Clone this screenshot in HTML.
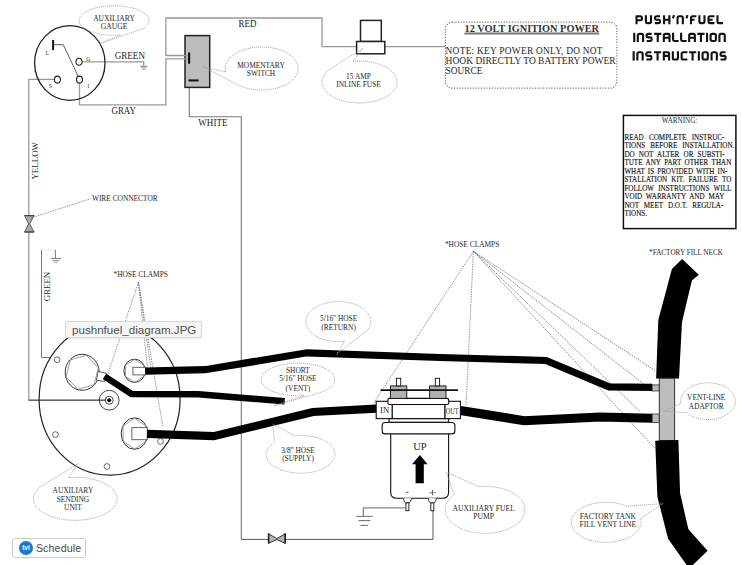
<!DOCTYPE html>
<html><head><meta charset="utf-8"><style>
html,body{margin:0;padding:0;background:#fff;}
body{width:741px;height:565px;position:relative;overflow:hidden;font-family:"Liberation Serif",serif;}
svg{position:absolute;left:0;top:0;}
svg text{font-family:"Liberation Serif",serif;fill:#262626;}
.tip{position:absolute;left:64.5px;top:320.9px;width:137px;height:17.6px;box-sizing:border-box;background:#f5f5f5;border:1px solid #d8d8d8;border-radius:2px;box-shadow:0 0.5px 1.5px rgba(0,0,0,0.08);font-family:"Liberation Sans",sans-serif;font-size:11.6px;line-height:15.6px;color:#505050;padding-left:6.5px;white-space:nowrap;}
.sched{position:absolute;left:12.4px;top:538.2px;width:74px;height:20px;box-sizing:border-box;background:#fff;border:1px solid #cdcdcd;border-radius:3px;font-family:"Liberation Sans",sans-serif;font-size:10.6px;color:#4a4a4a;}
.sched .ic{position:absolute;left:5.6px;top:1.7px;width:14px;height:14px;border-radius:50%;background:#1b78d0;color:#fff;font-size:6.5px;font-weight:bold;line-height:14px;text-align:center;}
.sched .lb{position:absolute;left:22.5px;top:2.2px;line-height:15px;letter-spacing:0.15px;}
</style></head><body>
<svg width="741" height="565" viewBox="0 0 741 565">
<polyline points="188,55.5 165.9,55.5 165.9,18 322,18 322,46.6 356.6,46.6" fill="none" stroke="#9a9a9a" stroke-width="1.3"/>
<polyline points="384.8,46.6 445.5,46.6" fill="none" stroke="#9a9a9a" stroke-width="1.3"/>
<polyline points="79.5,83 79.5,104.8 165.9,104.8 165.9,58.9 188,58.9" fill="none" stroke="#9a9a9a" stroke-width="1.3"/>
<polyline points="82,61.8 143.7,61.8 143.7,66" fill="none" stroke="#9a9a9a" stroke-width="1.3"/>
<g stroke="#888"><line x1="140" y1="66.3" x2="147.6" y2="66.3" stroke-width="1"/><line x1="141" y1="67.8" x2="146.5" y2="67.8" stroke-width="0.8"/><line x1="142.2" y1="69.3" x2="145.4" y2="69.3" stroke-width="0.8"/></g>
<polyline points="54.4,79.3 28.8,79.3 28.8,400.2 106,400.2" fill="none" stroke="#9a9a9a" stroke-width="1.3"/>
<line x1="28.8" y1="400.2" x2="106" y2="400.2" stroke="#444" stroke-width="1"/>
<polyline points="189.3,82 189.3,116.8 241.3,116.8 241.3,539.4" fill="none" stroke="#7a7a7a" stroke-width="1.1"/>
<polyline points="241,539.4 433,539.4 433,508" fill="none" stroke="#555" stroke-width="1"/>
<line x1="41.6" y1="250.2" x2="55.4" y2="250.2" stroke="#e6e6e6" stroke-width="0.8"/>
<polyline points="41.5,250 41.5,357.5 50.2,357.5" fill="none" stroke="#777" stroke-width="1"/>
<line x1="55.4" y1="250" x2="55.4" y2="258.5" stroke="#777" stroke-width="1"/>
<g stroke="#777"><line x1="51.1" y1="258.5" x2="61.1" y2="258.5" stroke-width="1"/><line x1="52.2" y1="260.5" x2="59.5" y2="260.5" stroke-width="0.8"/><line x1="53.8" y1="262.2" x2="57.8" y2="262.2" stroke-width="0.7"/></g>
<path d="M24.6,215.6 L34,215.6 L29.7,223.8 L34,232 L24.6,232 L28.6,223.8 Z" fill="#a9a9a9" stroke="#555" stroke-width="0.9"/>
<line x1="24.4" y1="215.6" x2="34.2" y2="215.6" stroke="#444" stroke-width="1.2"/><line x1="24.4" y1="232" x2="34.2" y2="232" stroke="#444" stroke-width="1.2"/>
<path d="M268.6,533.8 L276.9,538.6 L285.2,533.8 L285.2,543.2 L276.9,539.6 L268.6,543.2 Z" fill="#b5b5b5" stroke="#333" stroke-width="1"/>
<line x1="268.6" y1="533.4" x2="268.6" y2="543.6" stroke="#222" stroke-width="1.6"/><line x1="285.2" y1="533.4" x2="285.2" y2="543.6" stroke="#222" stroke-width="1.6"/>
<ellipse cx="69.8" cy="63" rx="35.2" ry="37.3" fill="none" stroke="#222" stroke-width="1.3"/>
<line x1="53.1" y1="40" x2="53.1" y2="50.1" stroke="#111" stroke-width="2"/>
<polyline points="53.1,44.7 63.3,44.7 78.4,76.8" fill="none" stroke="#333" stroke-width="0.8"/>
<ellipse cx="79" cy="61.8" rx="3" ry="3.5" fill="white" stroke="#222" stroke-width="1.1"/>
<ellipse cx="57.4" cy="79.6" rx="3" ry="3.5" fill="white" stroke="#222" stroke-width="1.1"/>
<ellipse cx="79.5" cy="79.6" rx="3" ry="3.5" fill="white" stroke="#222" stroke-width="1.1"/>
<text transform="translate(47.20,55.00) scale(1,1.070)" font-size="5.50" text-anchor="middle" >L</text>
<text transform="translate(88.20,60.50) scale(1,1.070)" font-size="5.50" text-anchor="middle" >G</text>
<text transform="translate(50.20,88.00) scale(1,1.070)" font-size="5.50" text-anchor="middle" >S</text>
<text transform="translate(88.40,88.00) scale(1,1.070)" font-size="5.50" text-anchor="middle" >I</text>
<rect x="185" y="35.6" width="24.7" height="51.8" fill="#bdbdbd" stroke="#222" stroke-width="1.5"/>
<line x1="184" y1="55.5" x2="189" y2="55.5" stroke="#9a9a9a" stroke-width="1.3"/><line x1="184" y1="58.9" x2="189" y2="58.9" stroke="#9a9a9a" stroke-width="1.3"/>
<line x1="189.1" y1="53.3" x2="189.1" y2="63.1" stroke="#111" stroke-width="2.1" stroke-linecap="round"/>
<line x1="188.5" y1="80.4" x2="198.6" y2="80.4" stroke="#111" stroke-width="2"/>
<rect x="360.5" y="20.4" width="20.8" height="21.1" fill="white" stroke="#222" stroke-width="1.5"/>
<rect x="356.6" y="41.5" width="28.2" height="12.3" fill="white" stroke="#222" stroke-width="1.5"/>
<ellipse cx="109.6" cy="399.2" rx="70.5" ry="76" fill="none" stroke="#222" stroke-width="1.2"/>
<ellipse cx="82.2" cy="372.3" rx="17" ry="18" fill="white" stroke="#333" stroke-width="1"/>
<polygon points="98.3,367.7 94.0,384.8 77.9,389.3 66.1,376.9 70.4,359.8 86.5,355.3" fill="none" stroke="#888" stroke-width="0.8"/>
<ellipse cx="134.6" cy="370.8" rx="10.7" ry="11.6" fill="white" stroke="#333" stroke-width="1"/>
<polygon points="143.7,376.5 134.6,382.2 125.5,376.5 125.5,365.1 134.6,359.4 143.7,365.1" fill="none" stroke="#888" stroke-width="0.8"/>
<ellipse cx="134.5" cy="433.6" rx="13.3" ry="15.7" fill="white" stroke="#333" stroke-width="1"/>
<polygon points="145.8,441.3 134.5,449.0 123.2,441.3 123.2,425.9 134.5,418.2 145.8,425.9" fill="none" stroke="#888" stroke-width="0.8"/>
<polygon points="98.2,371.4 106.5,373.4 104.6,381.6 96.4,380" fill="white" stroke="#333" stroke-width="0.8"/>
<rect x="132.9" y="367.3" width="12.6" height="7.6" fill="white" stroke="#555" stroke-width="0.9"/>
<rect x="131.9" y="427.6" width="15.3" height="12.1" fill="white" stroke="#555" stroke-width="0.9"/>
<circle cx="109.2" cy="400.2" r="9.9" fill="none" stroke="#333" stroke-width="0.9"/>
<circle cx="109.2" cy="400.2" r="4" fill="none" stroke="#333" stroke-width="0.9"/>
<circle cx="109.2" cy="400.2" r="2" fill="#000"/>
<circle cx="57.1" cy="359.8" r="2.9" fill="none" stroke="#444" stroke-width="0.8"/>
<circle cx="55.4" cy="434.6" r="2.9" fill="none" stroke="#444" stroke-width="0.8"/>
<circle cx="107" cy="466.5" r="2.9" fill="none" stroke="#444" stroke-width="0.8"/>
<circle cx="160.5" cy="441.4" r="2.9" fill="none" stroke="#444" stroke-width="0.8"/>
<line x1="138.4" y1="282.1" x2="107.5" y2="375.1" stroke="#666" stroke-width="0.7" stroke-dasharray="1.5 1"/>
<line x1="138.4" y1="282.1" x2="147.4" y2="367.5" stroke="#666" stroke-width="0.7" stroke-dasharray="1.5 1"/>
<line x1="138.4" y1="282.1" x2="150.8" y2="367.5" stroke="#666" stroke-width="0.7" stroke-dasharray="1.5 1"/>
<line x1="138.4" y1="282.1" x2="163" y2="427.5" stroke="#666" stroke-width="0.7" stroke-dasharray="1.5 1"/>
<line x1="473.4" y1="251.3" x2="373" y2="404" stroke="#666" stroke-width="0.7" stroke-dasharray="1.5 1"/>
<line x1="473.4" y1="251.3" x2="466" y2="405.6" stroke="#666" stroke-width="0.7" stroke-dasharray="1.5 1"/>
<line x1="473.4" y1="251.3" x2="655.1" y2="370.6" stroke="#555" stroke-width="0.7" stroke-dasharray="1.4 1"/>
<line x1="473.4" y1="251.3" x2="643" y2="383.5" stroke="#555" stroke-width="0.7" stroke-dasharray="1.4 1"/>
<line x1="473.4" y1="251.3" x2="640" y2="411.5" stroke="#555" stroke-width="0.7" stroke-dasharray="1.4 1"/>
<line x1="473.4" y1="251.3" x2="655.1" y2="448.5" stroke="#555" stroke-width="0.7" stroke-dasharray="1.4 1"/>
<line x1="31" y1="218" x2="91" y2="198.5" stroke="#666" stroke-width="0.7" stroke-dasharray="1.5 1"/>
<polyline points="145.2,371.2 205,369.7 307,352.8 440,357.5 546,360.5 609,386.8 652.2,387.3" stroke-width="7.2" fill="none" stroke="#000" stroke-linejoin="miter" stroke-miterlimit="10"/>
<polyline points="104.5,376.4 131.5,394 198.3,394.2 284.7,401.3" stroke-width="6.4" fill="none" stroke="#000" stroke-linejoin="miter" stroke-miterlimit="10"/>
<polyline points="147.2,433.8 213.7,436.2 312.8,412 376.5,408.6" stroke-width="8.2" fill="none" stroke="#000" stroke-linejoin="miter" stroke-miterlimit="10"/>
<polyline points="460.4,410.5 524.2,420.7 600,417 652.2,418.3" stroke-width="9" fill="none" stroke="#000" stroke-linejoin="miter" stroke-miterlimit="10"/>
<rect x="652.2" y="384.9" width="7.1" height="6.1" fill="#bbb" stroke="#333" stroke-width="0.8"/>
<rect x="652.2" y="414" width="7.1" height="8.5" fill="#bbb" stroke="#333" stroke-width="0.8"/>
<polygon points="682.1,259 698.8,274.8 691.9,280.5 682,322 679,378.5 656.1,378.5 658.3,320 671.9,269.1" fill="#000"/>
<rect x="659.3" y="378.3" width="15.3" height="62.2" fill="#bdbdbd" stroke="#333" stroke-width="1"/>
<polygon points="655.2,440.8 678.4,440 680.1,493.3 688.4,529.2 707.6,550.7 690.8,567 688,567 668.1,538.7 657.4,496.9" fill="#000"/>
<path d="M390.7,430 L390.7,492.2 Q390.7,498.2 396.7,498.2 L442.6,498.2 Q448.6,498.2 448.6,492.2 L448.6,430 Z" fill="white" stroke="#111" stroke-width="1.1"/>
<rect x="382.2" y="422.5" width="72.7" height="11.4" rx="3" fill="white" stroke="#111" stroke-width="1.1"/>
<rect x="389.1" y="418.6" width="59.6" height="3.6" fill="white" stroke="#111" stroke-width="1.1"/>
<rect x="392.1" y="404.5" width="52.9" height="14.1" fill="white" stroke="#111" stroke-width="1.1"/>
<rect x="376.2" y="401.3" width="15.9" height="17.3" fill="white" stroke="#111" stroke-width="1.1"/>
<rect x="445" y="401.3" width="15.4" height="17.3" fill="white" stroke="#111" stroke-width="1.1"/>
<rect x="387.9" y="398.4" width="60.8" height="6.1" rx="1.5" fill="white" stroke="#111" stroke-width="1.1"/>
<rect x="390.4" y="385.9" width="16.4" height="12.5" fill="#b0b0b0" stroke="#111" stroke-width="0.9"/>
<rect x="396.4" y="378.3" width="4.3" height="7.6" fill="white" stroke="#111" stroke-width="0.9"/>
<rect x="429.6" y="385.9" width="16.4" height="12.5" fill="#b0b0b0" stroke="#111" stroke-width="0.9"/>
<rect x="435.3" y="378.3" width="4.3" height="7.6" fill="white" stroke="#111" stroke-width="0.9"/>
<line x1="380.6" y1="390.1" x2="458" y2="390.1" stroke="#111" stroke-width="1.9"/>
<text transform="translate(384.60,412.80) scale(1,1.000)" font-size="8.60" text-anchor="middle" >IN</text>
<text transform="translate(452.10,413.60) scale(1,1.200)" font-size="6.30" text-anchor="middle" >OUT</text>
<text transform="translate(419.90,450.20) scale(1,1.070)" font-size="10.50" text-anchor="middle" >UP</text>
<polygon points="419.9,455 427.6,464.3 423.8,464.3 423.8,483.3 415.6,483.3 415.6,464.3 411.9,464.3" fill="#000"/>
<line x1="405.8" y1="492.3" x2="408.6" y2="492.3" stroke="#444" stroke-width="0.9"/>
<line x1="429.4" y1="492.8" x2="435.6" y2="492.8" stroke="#666" stroke-width="0.9"/><line x1="432.5" y1="489.8" x2="432.5" y2="495.6" stroke="#666" stroke-width="0.9"/>
<path d="M403.3,498.2 Q403.8,502.4 405.8,502.9 L409.0,502.9 Q411.0,502.4 411.5,498.2" fill="white" stroke="#222" stroke-width="0.9"/>
<rect x="405.9" y="502.9" width="3" height="7.8" fill="white" stroke="#111" stroke-width="0.9"/>
<path d="M428.2,498.2 Q428.7,502.4 430.7,502.9 L433.9,502.9 Q435.9,502.4 436.4,498.2" fill="white" stroke="#222" stroke-width="0.9"/>
<rect x="430.8" y="502.9" width="3" height="7.8" fill="white" stroke="#111" stroke-width="0.9"/>
<polyline points="405.5,507.9 363.3,507.9 363.3,516" fill="none" stroke="#666" stroke-width="1"/>
<g stroke="#777" stroke-width="1.1"><line x1="356.2" y1="516.4" x2="372.8" y2="516.4"/><line x1="358.6" y1="520.6" x2="370.4" y2="520.6"/><line x1="360.4" y1="525.4" x2="368" y2="525.4"/></g>
<text transform="translate(114.00,20.60) scale(1,1.070)" font-size="7.60" text-anchor="middle" >AUXILIARY</text>
<text transform="translate(114.00,28.50) scale(1,1.070)" font-size="7.60" text-anchor="middle" >GAUGE</text>
<text transform="translate(129.80,58.50) scale(1,1.070)" font-size="9.10" text-anchor="middle" >GREEN</text>
<text transform="translate(123.70,113.90) scale(1,1.070)" font-size="8.95" text-anchor="middle" >GRAY</text>
<text transform="translate(247.60,26.70) scale(1,1.070)" font-size="9.00" text-anchor="middle" >RED</text>
<text transform="translate(212.90,125.60) scale(1,1.070)" font-size="9.10" text-anchor="middle" >WHITE</text>
<text transform="translate(261.00,67.80) scale(1,1.070)" font-size="7.40" text-anchor="middle" >MOMENTARY</text>
<text transform="translate(261.00,75.90) scale(1,1.070)" font-size="7.40" text-anchor="middle" >SWITCH</text>
<text transform="translate(358.50,78.50) scale(1,1.070)" font-size="7.40" text-anchor="middle" >15 AMP</text>
<text transform="translate(358.50,86.60) scale(1,1.070)" font-size="7.40" text-anchor="middle" >INLINE FUSE</text>
<text transform="translate(124.80,200.60) scale(1,1.070)" font-size="7.40" text-anchor="middle" >WIRE CONNECTOR</text>
<text transform="translate(140.70,276.70) scale(1,1.070)" font-size="7.40" text-anchor="middle" >*HOSE CLAMPS</text>
<text transform="translate(472.10,246.60) scale(1,1.070)" font-size="7.40" text-anchor="middle" >*HOSE CLAMPS</text>
<text transform="translate(686.00,255.30) scale(1,1.070)" font-size="7.20" text-anchor="middle" >*FACTORY FILL NECK</text>
<text transform="translate(338.60,321.00) scale(1,1.070)" font-size="7.40" text-anchor="middle" >5/16" HOSE</text>
<text transform="translate(338.60,329.60) scale(1,1.070)" font-size="7.40" text-anchor="middle" >(RETURN)</text>
<text transform="translate(297.90,372.80) scale(1,1.070)" font-size="7.40" text-anchor="middle" >SHORT</text>
<text transform="translate(297.90,381.30) scale(1,1.070)" font-size="7.40" text-anchor="middle" >5/16" HOSE</text>
<text transform="translate(297.90,390.50) scale(1,1.070)" font-size="7.40" text-anchor="middle" >(VENT)</text>
<text transform="translate(298.00,452.90) scale(1,1.070)" font-size="7.40" text-anchor="middle" >3/8" HOSE</text>
<text transform="translate(298.00,461.00) scale(1,1.070)" font-size="7.40" text-anchor="middle" >(SUPPLY)</text>
<text transform="translate(72.90,493.40) scale(1,1.070)" font-size="7.40" text-anchor="middle" >AUXILIARY</text>
<text transform="translate(72.90,501.50) scale(1,1.070)" font-size="7.40" text-anchor="middle" >SENDING</text>
<text transform="translate(72.90,510.20) scale(1,1.070)" font-size="7.40" text-anchor="middle" >UNIT</text>
<text transform="translate(483.60,510.60) scale(1,1.070)" font-size="7.60" text-anchor="middle" >AUXILIARY FUEL</text>
<text transform="translate(483.60,518.70) scale(1,1.070)" font-size="7.60" text-anchor="middle" >PUMP</text>
<text transform="translate(607.80,519.30) scale(1,1.070)" font-size="7.60" text-anchor="middle" >FACTORY TANK</text>
<text transform="translate(607.80,527.20) scale(1,1.070)" font-size="7.60" text-anchor="middle" >FILL VENT LINE</text>
<text transform="translate(706.20,399.70) scale(1,1.070)" font-size="7.40" text-anchor="middle" >VENT-LINE</text>
<text transform="translate(706.20,408.90) scale(1,1.070)" font-size="7.40" text-anchor="middle" >ADAPTOR</text>
<text transform="translate(38.3,160.8) rotate(-90)" font-size="8.9" text-anchor="middle">YELLOW</text>
<text transform="translate(50.2,286.5) rotate(-90)" font-size="8.85" text-anchor="middle">GREEN</text>
<rect x="445.4" y="22.2" width="171.5" height="66" rx="7" fill="none" stroke="#777" stroke-width="1.2" stroke-dasharray="1.2 1.5"/>
<text transform="translate(531.80,31.90) scale(1,1.000)" font-size="10.35" text-anchor="middle" font-weight="bold" textLength="134.5" lengthAdjust="spacingAndGlyphs" style="fill:#333">12 VOLT IGNITION POWER</text>
<line x1="464.4" y1="33.5" x2="599.2" y2="33.5" stroke="#777" stroke-width="1.8"/>
<text transform="translate(445.60,53.60) scale(1,1.000)" font-size="9.40" text-anchor="start" textLength="157" lengthAdjust="spacing">NOTE: KEY POWER ONLY, DO NOT</text>
<text transform="translate(445.60,64.30) scale(1,1.000)" font-size="9.40" text-anchor="start" textLength="170" lengthAdjust="spacingAndGlyphs">HOOK DIRECTLY TO BATTERY POWER</text>
<text transform="translate(445.60,74.40) scale(1,1.000)" font-size="9.40" text-anchor="start" textLength="36.8" lengthAdjust="spacingAndGlyphs">SOURCE</text>
<rect x="623.4" y="115.4" width="112.5" height="113.2" fill="white" stroke="#111" stroke-width="1.5"/>
<text transform="translate(679.50,122.60) scale(1,1.070)" font-size="7.10" text-anchor="middle" >WARNING:</text>
<text transform="translate(624.4,139.80) scale(1,1.07)" font-size="7.1" word-spacing="3.51" style="fill:#111;stroke:#111;stroke-width:0.12px">READ COMPLETE INSTRUC-</text>
<text transform="translate(624.4,148.27) scale(1,1.07)" font-size="7.1" word-spacing="3.12" style="fill:#111;stroke:#111;stroke-width:0.12px">TIONS BEFORE INSTALLATION.</text>
<text transform="translate(624.4,156.74) scale(1,1.07)" font-size="7.1" word-spacing="2.44" style="fill:#111;stroke:#111;stroke-width:0.12px">DO NOT ALTER OR SUBSTI-</text>
<text transform="translate(624.4,165.21) scale(1,1.07)" font-size="7.1" word-spacing="1.71" style="fill:#111;stroke:#111;stroke-width:0.12px">TUTE ANY PART OTHER THAN</text>
<text transform="translate(624.4,173.68) scale(1,1.07)" font-size="7.1" word-spacing="1.29" style="fill:#111;stroke:#111;stroke-width:0.12px">WHAT IS PROVIDED WITH IN-</text>
<text transform="translate(624.4,182.15) scale(1,1.07)" font-size="7.1" word-spacing="2.38" style="fill:#111;stroke:#111;stroke-width:0.12px">STALLATION KIT. FAILURE TO</text>
<text transform="translate(624.4,190.62) scale(1,1.07)" font-size="7.1" word-spacing="2.56" style="fill:#111;stroke:#111;stroke-width:0.12px">FOLLOW INSTRUCTIONS WILL</text>
<text transform="translate(624.4,199.09) scale(1,1.07)" font-size="7.1" word-spacing="2.09" style="fill:#111;stroke:#111;stroke-width:0.12px">VOID WARRANTY AND MAY</text>
<text transform="translate(624.4,207.56) scale(1,1.07)" font-size="7.1" word-spacing="3.16" style="fill:#111;stroke:#111;stroke-width:0.12px">NOT MEET D.O.T. REGULA-</text>
<text transform="translate(624.4,216.03) scale(1,1.07)" font-size="7.1" word-spacing="0.00" style="fill:#111;stroke:#111;stroke-width:0.12px">TIONS.</text>
<path d="M119.7 35.0 L117.6 35.1 L115.5 35.2 L113.4 35.2 L111.3 35.2 L109.2 35.1 L107.1 34.9 L105.0 34.7 L103.0 34.5 L101.0 34.1 L99.0 33.8 L97.1 33.4 L95.3 32.9 L93.6 32.4 L91.9 31.9 L90.3 31.3 L88.8 30.7 L87.3 30.0 L86.0 29.3 L84.8 28.6 L83.7 27.8 L82.7 27.1 L81.8 26.2 L81.0 25.4 L80.4 24.6 L79.8 23.7 L79.4 22.8 L79.2 21.9 L79.0 21.1 L79.0 20.2 L79.1 19.3 L79.4 18.4 L79.7 17.5 L80.2 16.6 L80.8 15.8 L81.6 15.0 L82.4 14.1 L83.4 13.4 L84.5 12.6 L85.7 11.9 L87.0 11.2 L88.4 10.5 L89.9 9.8 L91.5 9.3 L93.1 8.7 L94.9 8.2 L96.7 7.7 L98.5 7.3 L100.5 6.9 L102.5 6.6 L104.5 6.4 L106.5 6.1 L108.6 6.0 L110.7 5.9 L112.8 5.8 L115.0 5.8 L117.1 5.9 L119.2 6.0 L121.3 6.1 L123.3 6.3 L125.4 6.6 L127.3 6.9 L129.3 7.3 L131.2 7.7 L133.0 8.1 L134.7 8.7 L136.4 9.2 L138.0 9.8 L139.5 10.4 L140.9 11.1 L142.2 11.8 L143.4 12.5 L144.5 13.3 L145.5 14.1 L146.4 14.9 L147.1 15.7 L147.7 16.6 L148.2 17.4 L148.6 18.3 L148.9 19.2 L149.0 20.1 L149.0 21.0 L148.8 21.9 L148.6 22.8 L148.2 23.6 L147.7 24.5 L147.0 25.3 L146.3 26.2 L145.4 27.0 L144.4 27.8 L143.3 28.5 L100.4 43.5 Z" stroke="#999" stroke-width="0.85" stroke-dasharray="1.1 0.9" fill="none"/>
<path d="M225.7 72.0 L225.4 70.7 L225.2 69.4 L225.2 68.0 L225.3 66.7 L225.6 65.3 L226.0 64.0 L226.6 62.7 L227.2 61.4 L228.1 60.1 L229.0 58.9 L230.1 57.7 L231.3 56.6 L232.7 55.5 L234.1 54.4 L235.7 53.4 L237.3 52.5 L239.1 51.6 L240.9 50.8 L242.8 50.1 L244.8 49.4 L246.9 48.9 L249.0 48.3 L251.2 47.9 L253.4 47.6 L255.6 47.3 L257.9 47.1 L260.2 47.0 L262.5 47.0 L264.8 47.1 L267.1 47.2 L269.3 47.5 L271.5 47.8 L273.7 48.2 L275.9 48.7 L277.9 49.2 L280.0 49.9 L281.9 50.6 L283.8 51.4 L285.6 52.2 L287.2 53.1 L288.8 54.1 L290.3 55.2 L291.7 56.2 L292.9 57.4 L294.0 58.5 L295.0 59.8 L295.9 61.0 L296.6 62.3 L297.2 63.6 L297.7 64.9 L298.0 66.3 L298.2 67.6 L298.2 68.9 L298.1 70.3 L297.8 71.6 L297.4 73.0 L296.9 74.3 L296.2 75.6 L295.4 76.8 L294.4 78.1 L293.3 79.2 L292.1 80.4 L290.8 81.5 L289.3 82.5 L287.8 83.5 L286.1 84.5 L284.4 85.3 L282.5 86.1 L280.6 86.9 L278.6 87.5 L276.6 88.1 L274.4 88.6 L272.3 89.1 L270.1 89.4 L267.8 89.7 L265.5 89.9 L263.3 90.0 L261.0 90.0 L258.7 89.9 L256.4 89.8 L254.1 89.5 L251.9 89.2 L249.7 88.8 L247.6 88.3 L245.5 87.8 L243.5 87.1 L241.5 86.4 L239.7 85.6 L237.9 84.8 L236.2 83.9 L203.0 66.8 Z" stroke="#999" stroke-width="0.85" stroke-dasharray="1.1 0.9" fill="none"/>
<path d="M353.0 61.3 L355.3 61.1 L357.6 61.0 L359.9 61.0 L362.2 61.1 L364.5 61.2 L366.8 61.4 L369.1 61.7 L371.3 62.1 L373.5 62.5 L375.6 63.0 L377.6 63.6 L379.6 64.3 L381.5 65.0 L383.4 65.8 L385.1 66.7 L386.7 67.6 L388.3 68.5 L389.7 69.6 L391.0 70.6 L392.2 71.7 L393.3 72.9 L394.2 74.1 L395.0 75.3 L395.7 76.5 L396.2 77.8 L396.6 79.1 L396.9 80.3 L397.0 81.6 L397.0 82.9 L396.8 84.2 L396.5 85.5 L396.0 86.8 L395.4 88.0 L394.7 89.3 L393.8 90.5 L392.8 91.6 L391.7 92.8 L390.5 93.9 L389.1 94.9 L387.6 95.9 L386.0 96.8 L384.3 97.7 L382.6 98.6 L380.7 99.3 L378.8 100.0 L376.7 100.7 L374.6 101.2 L372.5 101.7 L370.3 102.1 L368.1 102.4 L365.8 102.7 L363.5 102.9 L361.2 103.0 L358.9 103.0 L356.6 102.9 L354.3 102.8 L352.0 102.6 L349.7 102.3 L347.5 101.9 L345.4 101.5 L343.3 100.9 L341.2 100.3 L339.2 99.7 L337.3 98.9 L335.5 98.1 L333.8 97.3 L332.1 96.4 L330.6 95.4 L329.2 94.4 L327.9 93.3 L326.7 92.2 L325.6 91.0 L324.7 89.8 L323.9 88.6 L323.2 87.4 L322.7 86.1 L322.3 84.8 L322.1 83.5 L322.0 82.3 L322.0 81.0 L322.2 79.7 L322.6 78.4 L323.0 77.1 L323.6 75.9 L324.4 74.6 L325.3 73.4 L326.3 72.3 L327.4 71.1 L328.7 70.1 L330.0 69.0 L363.0 48.2 Z" stroke="#999" stroke-width="0.85" stroke-dasharray="1.1 0.9" fill="none"/>
<path d="M344.4 341.2 L342.6 341.4 L340.6 341.5 L338.7 341.6 L336.8 341.6 L334.9 341.5 L333.0 341.3 L331.1 341.1 L329.2 340.8 L327.4 340.4 L325.6 340.0 L323.9 339.5 L322.2 339.0 L320.5 338.3 L318.9 337.7 L317.4 336.9 L316.0 336.1 L314.6 335.3 L313.4 334.4 L312.2 333.5 L311.1 332.5 L310.1 331.5 L309.2 330.5 L308.4 329.4 L307.7 328.3 L307.1 327.2 L306.6 326.0 L306.2 324.9 L306.0 323.7 L305.8 322.5 L305.8 321.3 L305.9 320.1 L306.1 319.0 L306.4 317.8 L306.8 316.6 L307.3 315.5 L308.0 314.4 L308.7 313.3 L309.6 312.2 L310.5 311.2 L311.6 310.2 L312.7 309.3 L313.9 308.4 L315.3 307.5 L316.7 306.7 L318.1 305.9 L319.7 305.2 L321.3 304.6 L322.9 304.0 L324.7 303.4 L326.4 303.0 L328.2 302.6 L330.1 302.2 L332.0 302.0 L333.9 301.8 L335.8 301.7 L337.7 301.6 L339.6 301.6 L341.5 301.7 L343.4 301.9 L345.3 302.1 L347.2 302.4 L349.0 302.7 L350.8 303.1 L352.6 303.6 L354.3 304.2 L355.9 304.8 L357.5 305.5 L359.0 306.2 L360.5 307.0 L361.8 307.8 L363.1 308.7 L364.3 309.6 L365.4 310.6 L366.4 311.6 L367.3 312.6 L368.2 313.7 L368.9 314.8 L369.5 315.9 L370.0 317.1 L370.3 318.2 L370.6 319.4 L370.8 320.6 L370.8 321.8 L370.7 322.9 L370.5 324.1 L370.2 325.3 L369.8 326.4 L369.3 327.6 L368.7 328.7 L367.9 329.8 L336.4 354.3 Z" stroke="#999" stroke-width="0.85" stroke-dasharray="1.1 0.9" fill="none"/>
<path d="M304.1 395.6 L301.7 395.7 L299.3 395.8 L296.9 395.8 L294.5 395.7 L292.2 395.6 L289.8 395.4 L287.5 395.1 L285.3 394.8 L283.0 394.4 L280.9 394.0 L278.8 393.4 L276.8 392.9 L274.9 392.2 L273.1 391.5 L271.4 390.8 L269.8 390.0 L268.3 389.2 L266.9 388.3 L265.7 387.4 L264.6 386.5 L263.7 385.5 L262.9 384.5 L262.2 383.5 L261.7 382.4 L261.4 381.4 L261.1 380.3 L261.1 379.3 L261.2 378.2 L261.5 377.2 L261.9 376.1 L262.5 375.1 L263.2 374.1 L264.0 373.1 L265.0 372.2 L266.2 371.2 L267.5 370.3 L268.9 369.5 L270.4 368.7 L272.0 367.9 L273.8 367.2 L275.7 366.5 L277.6 365.9 L279.6 365.4 L281.7 364.9 L283.9 364.4 L286.2 364.1 L288.4 363.7 L290.8 363.5 L293.1 363.3 L295.5 363.2 L297.9 363.2 L300.3 363.2 L302.7 363.3 L305.0 363.5 L307.3 363.7 L309.6 364.0 L311.9 364.4 L314.0 364.9 L316.1 365.3 L318.2 365.9 L320.1 366.5 L322.0 367.2 L323.7 367.9 L325.4 368.7 L326.9 369.5 L328.3 370.3 L329.6 371.2 L330.7 372.1 L331.8 373.1 L332.6 374.1 L333.3 375.1 L333.9 376.1 L334.3 377.2 L334.6 378.2 L334.7 379.3 L334.7 380.3 L334.5 381.4 L334.1 382.4 L333.6 383.5 L332.9 384.5 L332.1 385.5 L331.2 386.5 L330.1 387.4 L328.9 388.3 L327.5 389.2 L326.0 390.0 L324.4 390.8 L322.7 391.5 L320.9 392.2 L319.0 392.9 L274.2 405.7 Z" stroke="#999" stroke-width="0.85" stroke-dasharray="1.1 0.9" fill="none"/>
<path d="M294.3 435.7 L296.5 435.5 L298.6 435.4 L300.7 435.4 L302.9 435.4 L305.0 435.6 L307.1 435.7 L309.2 436.0 L311.3 436.3 L313.3 436.7 L315.3 437.2 L317.2 437.7 L319.0 438.3 L320.8 439.0 L322.5 439.7 L324.1 440.5 L325.6 441.3 L327.0 442.2 L328.4 443.1 L329.6 444.1 L330.7 445.1 L331.7 446.2 L332.5 447.2 L333.3 448.4 L333.9 449.5 L334.3 450.6 L334.7 451.8 L334.9 453.0 L335.0 454.1 L335.0 455.3 L334.8 456.5 L334.5 457.7 L334.0 458.8 L333.4 459.9 L332.7 461.1 L331.9 462.1 L331.0 463.2 L329.9 464.2 L328.7 465.2 L327.4 466.1 L326.0 467.0 L324.5 467.9 L322.9 468.7 L321.3 469.4 L319.5 470.1 L317.7 470.7 L315.8 471.3 L313.8 471.7 L311.8 472.2 L309.8 472.5 L307.7 472.8 L305.6 473.0 L303.5 473.1 L301.3 473.2 L299.2 473.2 L297.0 473.1 L294.9 472.9 L292.8 472.7 L290.7 472.4 L288.7 472.0 L286.7 471.6 L284.8 471.1 L282.9 470.5 L281.1 469.9 L279.4 469.2 L277.7 468.4 L276.2 467.6 L274.7 466.8 L273.4 465.8 L272.1 464.9 L271.0 463.9 L269.9 462.9 L269.0 461.8 L268.2 460.7 L267.6 459.6 L267.0 458.4 L266.6 457.3 L266.4 456.1 L266.2 454.9 L266.2 453.8 L266.3 452.6 L266.6 451.4 L267.0 450.3 L267.5 449.1 L268.2 448.0 L269.0 446.9 L269.9 445.8 L270.9 444.8 L272.0 443.8 L273.3 442.8 L274.6 441.9 L272.9 423.9 Z" stroke="#999" stroke-width="0.85" stroke-dasharray="1.1 0.9" fill="none"/>
<path d="M68.6 477.6 L71.2 477.4 L73.8 477.3 L76.4 477.3 L79.1 477.4 L81.7 477.6 L84.2 477.8 L86.8 478.1 L89.3 478.6 L91.7 479.0 L94.1 479.6 L96.4 480.3 L98.6 481.0 L100.7 481.8 L102.8 482.6 L104.7 483.6 L106.5 484.5 L108.2 485.6 L109.7 486.7 L111.1 487.8 L112.4 489.0 L113.5 490.2 L114.5 491.5 L115.3 492.7 L116.0 494.1 L116.5 495.4 L116.8 496.7 L117.0 498.1 L117.0 499.4 L116.8 500.8 L116.5 502.1 L116.0 503.4 L115.4 504.7 L114.6 506.0 L113.6 507.3 L112.5 508.5 L111.2 509.7 L109.8 510.8 L108.3 511.9 L106.6 513.0 L104.9 514.0 L102.9 514.9 L100.9 515.7 L98.8 516.5 L96.6 517.3 L94.3 517.9 L91.9 518.5 L89.5 519.0 L87.0 519.4 L84.5 519.8 L81.9 520.0 L79.3 520.2 L76.7 520.3 L74.0 520.3 L71.4 520.2 L68.8 520.0 L66.2 519.8 L63.7 519.5 L61.2 519.1 L58.8 518.6 L56.4 518.0 L54.1 517.4 L51.8 516.6 L49.7 515.8 L47.7 515.0 L45.8 514.1 L44.0 513.1 L42.3 512.1 L40.7 511.0 L39.3 509.8 L38.0 508.6 L36.9 507.4 L35.9 506.2 L35.1 504.9 L34.4 503.6 L33.9 502.3 L33.6 500.9 L33.4 499.6 L33.4 498.2 L33.6 496.9 L33.9 495.5 L34.4 494.2 L35.0 492.9 L35.8 491.6 L36.8 490.4 L37.9 489.1 L39.1 487.9 L40.5 486.8 L42.0 485.7 L43.7 484.7 L45.5 483.7 L78.6 463.4 Z" stroke="#999" stroke-width="0.85" stroke-dasharray="1.1 0.9" fill="none"/>
<path d="M478.6 486.6 L481.1 486.4 L483.5 486.3 L486.0 486.3 L488.4 486.4 L490.9 486.6 L493.3 486.8 L495.7 487.2 L498.0 487.6 L500.3 488.1 L502.6 488.7 L504.7 489.4 L506.8 490.1 L508.8 491.0 L510.8 491.9 L512.6 492.9 L514.3 493.9 L515.9 495.0 L517.4 496.1 L518.8 497.3 L520.0 498.6 L521.1 499.9 L522.1 501.2 L522.9 502.6 L523.6 504.0 L524.1 505.4 L524.5 506.8 L524.7 508.3 L524.8 509.7 L524.7 511.2 L524.5 512.6 L524.1 514.1 L523.6 515.5 L523.0 516.9 L522.1 518.3 L521.2 519.6 L520.1 520.9 L518.9 522.1 L517.5 523.4 L516.0 524.5 L514.4 525.6 L512.7 526.7 L510.9 527.6 L509.0 528.5 L507.0 529.4 L504.9 530.1 L502.7 530.8 L500.5 531.4 L498.2 532.0 L495.9 532.4 L493.5 532.8 L491.1 533.0 L488.6 533.2 L486.2 533.3 L483.7 533.3 L481.3 533.2 L478.8 533.0 L476.4 532.7 L474.0 532.4 L471.7 531.9 L469.4 531.4 L467.2 530.8 L465.0 530.1 L462.9 529.4 L460.9 528.5 L459.0 527.6 L457.2 526.6 L455.5 525.6 L453.9 524.5 L452.4 523.3 L451.1 522.1 L449.9 520.8 L448.8 519.5 L447.8 518.2 L447.0 516.8 L446.4 515.4 L445.8 514.0 L445.5 512.6 L445.3 511.1 L445.2 509.7 L445.3 508.2 L445.5 506.8 L445.9 505.4 L446.5 503.9 L447.1 502.6 L448.0 501.2 L448.9 499.9 L450.1 498.6 L451.3 497.3 L452.7 496.1 L454.2 494.9 L446.2 472.1 Z" stroke="#999" stroke-width="0.85" stroke-dasharray="1.1 0.9" fill="none"/>
<path d="M627.2 506.3 L625.4 505.6 L623.6 504.9 L621.7 504.4 L619.7 503.9 L617.7 503.4 L615.6 503.0 L613.6 502.7 L611.4 502.5 L609.3 502.4 L607.2 502.3 L605.0 502.3 L602.8 502.4 L600.7 502.5 L598.6 502.8 L596.5 503.1 L594.5 503.5 L592.5 503.9 L590.5 504.4 L588.6 505.0 L586.8 505.7 L585.0 506.4 L583.4 507.1 L581.8 508.0 L580.3 508.9 L578.9 509.8 L577.6 510.8 L576.4 511.8 L575.3 512.9 L574.4 514.0 L573.5 515.1 L572.8 516.3 L572.2 517.5 L571.8 518.7 L571.5 519.9 L571.3 521.1 L571.2 522.3 L571.3 523.6 L571.5 524.8 L571.8 526.0 L572.3 527.2 L572.9 528.4 L573.6 529.6 L574.4 530.7 L575.4 531.8 L576.5 532.9 L577.7 533.9 L579.0 534.9 L580.4 535.8 L581.9 536.7 L583.5 537.5 L585.1 538.3 L586.9 539.0 L588.7 539.6 L590.6 540.2 L592.6 540.7 L594.6 541.2 L596.7 541.5 L598.7 541.8 L600.9 542.1 L603.0 542.2 L605.1 542.3 L607.3 542.3 L609.4 542.2 L611.6 542.1 L613.7 541.8 L615.8 541.5 L617.8 541.2 L619.8 540.7 L621.8 540.2 L623.7 539.6 L625.5 539.0 L627.3 538.3 L629.0 537.5 L630.6 536.7 L632.1 535.8 L633.5 534.8 L634.8 533.9 L636.0 532.8 L637.0 531.8 L638.0 530.7 L638.8 529.5 L639.5 528.4 L640.1 527.2 L640.6 526.0 L640.9 524.8 L641.1 523.5 L641.2 522.3 L641.1 521.1 L640.9 519.9 L640.6 518.6 L662.8 503.6 Z" stroke="#999" stroke-width="0.85" stroke-dasharray="1.1 0.9" fill="none"/>
<path d="M680.9 403.5 L680.8 402.4 L680.7 401.2 L680.8 400.0 L680.9 398.9 L681.2 397.7 L681.6 396.6 L682.1 395.4 L682.7 394.3 L683.4 393.3 L684.2 392.2 L685.1 391.2 L686.0 390.3 L687.1 389.3 L688.3 388.5 L689.5 387.6 L690.8 386.9 L692.2 386.2 L693.7 385.5 L695.2 384.9 L696.8 384.4 L698.4 384.0 L700.0 383.6 L701.7 383.3 L703.4 383.1 L705.1 382.9 L706.8 382.8 L708.6 382.8 L710.3 382.9 L712.0 383.0 L713.8 383.2 L715.4 383.5 L717.1 383.9 L718.7 384.3 L720.3 384.8 L721.8 385.3 L723.3 386.0 L724.7 386.6 L726.0 387.4 L727.3 388.2 L728.5 389.0 L729.6 390.0 L730.6 390.9 L731.5 391.9 L732.4 392.9 L733.1 394.0 L733.7 395.1 L734.3 396.2 L734.7 397.3 L735.0 398.5 L735.2 399.6 L735.3 400.8 L735.3 402.0 L735.1 403.2 L734.9 404.3 L734.6 405.5 L734.1 406.6 L733.5 407.7 L732.9 408.8 L732.1 409.8 L731.2 410.9 L730.3 411.8 L729.2 412.8 L728.1 413.7 L726.9 414.5 L725.6 415.3 L724.2 416.0 L722.8 416.7 L721.3 417.3 L719.8 417.8 L718.2 418.3 L716.5 418.7 L714.9 419.0 L713.2 419.3 L711.4 419.5 L709.7 419.6 L708.0 419.6 L706.2 419.6 L704.5 419.4 L702.8 419.3 L701.1 419.0 L699.4 418.7 L697.8 418.3 L696.2 417.8 L694.7 417.3 L693.2 416.7 L691.7 416.0 L690.4 415.3 L689.1 414.5 L687.9 413.6 L686.7 412.7 L663.6 411.2 Z" stroke="#999" stroke-width="0.85" stroke-dasharray="1.1 0.9" fill="none"/>
<g fill="none" stroke="#111" stroke-width="2.1" stroke-linejoin="round"><path transform="translate(635.50,15.20)" d="M1.05,9.00 V1.05 H4.75 Q6.35,1.05 6.35,2.65 V4.20 Q6.35,5.00 4.75,5.00 H1.05"/><path transform="translate(644.84,15.20)" d="M1.05,0 V6.35 Q1.05,7.95 2.65,7.95 H4.55 Q6.15,7.95 6.15,6.35 V0"/><path transform="translate(653.98,15.20)" d="M6.05,1.05 H2.65 Q1.05,1.05 1.05,2.65 V3.54 Q1.05,4.50 2.65,4.50 H4.45 Q6.05,4.50 6.05,5.46 V6.35 Q6.05,7.95 4.45,7.95 H1.05"/><path transform="translate(663.02,15.20)" d="M1.05,0 V9.00 M6.35,0 V9.00 M1.05,4.50 H6.35"/><path transform="translate(672.36,15.20)" d="M1.65,0 L0.55,3.15"/><path transform="translate(676.50,15.20)" d="M1.05,9.00 V2.65 Q1.05,1.05 2.65,1.05 H4.75 Q6.35,1.05 6.35,2.65 V9.00"/><path transform="translate(685.84,15.20)" d="M1.65,0 L0.55,3.15"/><path transform="translate(689.98,15.20)" d="M6.40,1.05 H2.65 Q1.05,1.05 1.05,2.65 V9.00 M0,4.50 H4.55"/><path transform="translate(698.32,15.20)" d="M1.05,0 V6.35 Q1.05,7.95 2.65,7.95 H4.55 Q6.15,7.95 6.15,6.35 V0"/><path transform="translate(707.46,15.20)" d="M7.00,1.05 H2.65 Q1.05,1.05 1.05,2.65 V6.35 Q1.05,7.95 2.65,7.95 H7.00 M1.05,4.50 H5.15"/><path transform="translate(716.40,15.20)" d="M1.05,0 V6.35 Q1.05,7.95 2.65,7.95 H6.60"/><path transform="translate(633.20,32.80)" d="M1.05,0 V9.20"/><path transform="translate(636.75,32.80)" d="M1.05,9.20 V2.65 Q1.05,1.05 2.65,1.05 H4.75 Q6.35,1.05 6.35,2.65 V9.20"/><path transform="translate(645.59,32.80)" d="M6.05,1.05 H2.65 Q1.05,1.05 1.05,2.65 V3.64 Q1.05,4.60 2.65,4.60 H4.45 Q6.05,4.60 6.05,5.56 V6.55 Q6.05,8.15 4.45,8.15 H1.05"/><path transform="translate(654.14,32.80)" d="M0,1.05 H7.20 M3.60,1.05 V9.20"/><path transform="translate(662.78,32.80)" d="M1.05,9.20 V2.65 Q1.05,1.05 2.65,1.05 H5.15 Q6.75,1.05 6.75,2.65 V9.20 M0.00,4.90 H6.75"/><path transform="translate(672.03,32.80)" d="M1.05,0 V6.55 Q1.05,8.15 2.65,8.15 H6.60"/><path transform="translate(680.07,32.80)" d="M1.05,0 V6.55 Q1.05,8.15 2.65,8.15 H6.60"/><path transform="translate(688.12,32.80)" d="M1.05,9.20 V2.65 Q1.05,1.05 2.65,1.05 H5.15 Q6.75,1.05 6.75,2.65 V9.20 M0.00,4.90 H6.75"/><path transform="translate(697.36,32.80)" d="M0,1.05 H7.20 M3.60,1.05 V9.20"/><path transform="translate(706.01,32.80)" d="M1.05,0 V9.20"/><path transform="translate(709.55,32.80)" d="M2.65,1.05 H4.75 Q6.35,1.05 6.35,2.65 V6.55 Q6.35,8.15 4.75,8.15 H2.65 Q1.05,8.15 1.05,6.55 V2.65 Q1.05,1.05 2.65,1.05 Z"/><path transform="translate(718.40,32.80)" d="M1.05,9.20 V2.65 Q1.05,1.05 2.65,1.05 H4.75 Q6.35,1.05 6.35,2.65 V9.20"/><path transform="translate(632.60,51.20)" d="M1.05,0 V9.40"/><path transform="translate(636.30,51.20)" d="M1.05,9.40 V2.65 Q1.05,1.05 2.65,1.05 H4.75 Q6.35,1.05 6.35,2.65 V9.40"/><path transform="translate(645.30,51.20)" d="M6.05,1.05 H2.65 Q1.05,1.05 1.05,2.65 V3.74 Q1.05,4.70 2.65,4.70 H4.45 Q6.05,4.70 6.05,5.66 V6.75 Q6.05,8.35 4.45,8.35 H1.05"/><path transform="translate(654.00,51.20)" d="M0,1.05 H7.20 M3.60,1.05 V9.40"/><path transform="translate(662.80,51.20)" d="M1.05,9.40 V1.05 H4.75 Q6.35,1.05 6.35,2.65 V3.90 Q6.35,4.70 4.75,4.70 H1.05 M4.75,4.70 Q6.35,4.70 6.35,6.30 V9.40"/><path transform="translate(671.80,51.20)" d="M1.05,0 V6.75 Q1.05,8.35 2.65,8.35 H4.55 Q6.15,8.35 6.15,6.75 V0"/><path transform="translate(680.60,51.20)" d="M6.80,1.05 H2.65 Q1.05,1.05 1.05,2.65 V6.75 Q1.05,8.35 2.65,8.35 H6.80"/><path transform="translate(689.00,51.20)" d="M0,1.05 H7.20 M3.60,1.05 V9.40"/><path transform="translate(697.80,51.20)" d="M1.05,0 V9.40"/><path transform="translate(701.50,51.20)" d="M2.65,1.05 H4.75 Q6.35,1.05 6.35,2.65 V6.75 Q6.35,8.35 4.75,8.35 H2.65 Q1.05,8.35 1.05,6.75 V2.65 Q1.05,1.05 2.65,1.05 Z"/><path transform="translate(710.50,51.20)" d="M1.05,9.40 V2.65 Q1.05,1.05 2.65,1.05 H4.75 Q6.35,1.05 6.35,2.65 V9.40"/><path transform="translate(719.50,51.20)" d="M6.05,1.05 H2.65 Q1.05,1.05 1.05,2.65 V3.74 Q1.05,4.70 2.65,4.70 H4.45 Q6.05,4.70 6.05,5.66 V6.75 Q6.05,8.35 4.45,8.35 H1.05"/></g>
</svg>
<div class="tip">pushnfuel_diagram.JPG</div>
<div class="sched"><div class="ic">tvi</div><div class="lb">Schedule</div></div>
</body></html>
